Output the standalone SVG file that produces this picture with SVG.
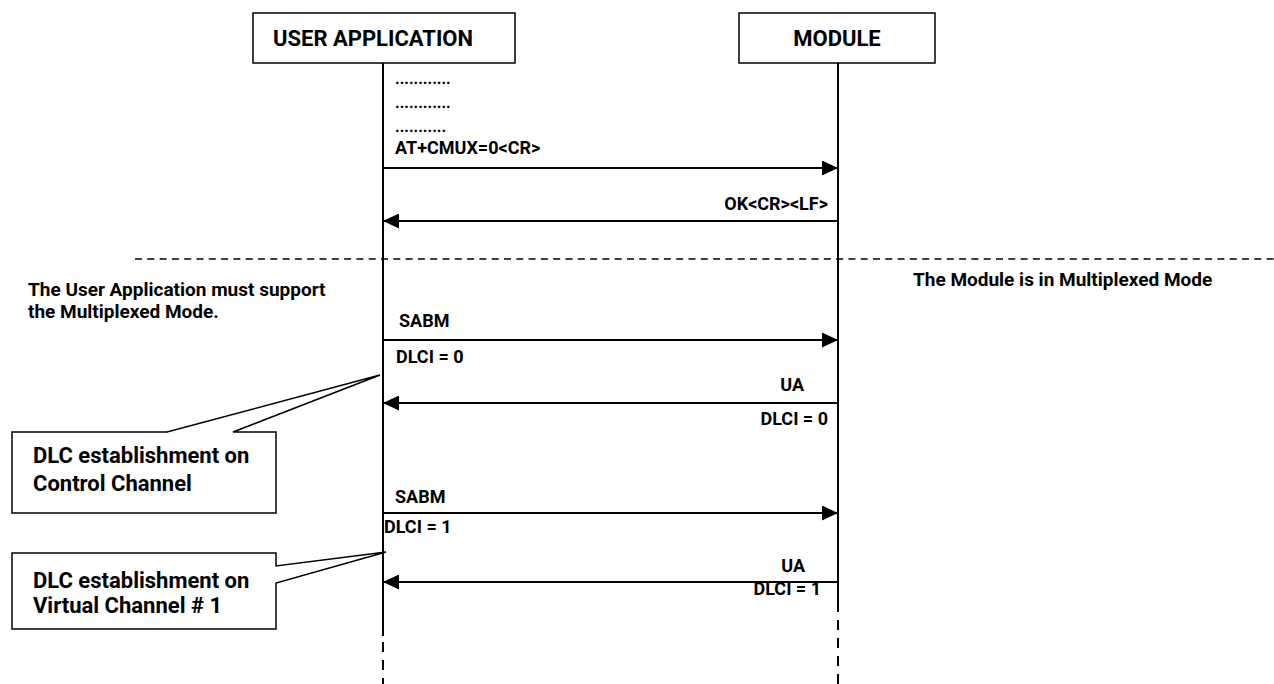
<svg xmlns="http://www.w3.org/2000/svg" width="1274" height="684" viewBox="0 0 1274 684">
<defs>
<style>
text{font-family:Roboto,"Liberation Sans",sans-serif;font-weight:bold;fill:#000}
.hdr{font-size:22px}
.note{font-size:19px}
.call{font-size:22px}
.msg{font-size:18px}
.dots{font-size:16px}
.box{fill:#fff;stroke:#000;stroke-width:1.5}
.life{stroke:#000;stroke-width:2;fill:none}
.dash{stroke:#000;stroke-width:2;stroke-dasharray:10 8;fill:none}
.arrow{stroke:#000;stroke-width:2;fill:none}
.sep{stroke:#000;stroke-width:1.5;stroke-dasharray:7 5.3;fill:none}
</style>
<marker id="ah" markerWidth="16" markerHeight="15" refX="16" refY="7.5" orient="auto" markerUnits="userSpaceOnUse">
<path d="M0,0 L16,7.5 L0,15 Z" fill="#000"/>
</marker>
</defs>
<rect width="1274" height="684" fill="#fff"/>

<g id="lifelines">
<line class="life" x1="383" y1="63" x2="383" y2="636"/>
<line class="dash" x1="383" y1="642" x2="383" y2="684"/>
<line class="life" x1="838" y1="63" x2="838" y2="612"/>
<line class="dash" x1="838" y1="620" x2="838" y2="684"/>
</g>

<g id="user-application">
<rect class="box" x="253" y="13" width="262" height="50"/>
<text class="hdr" x="373" y="46" text-anchor="middle">USER APPLICATION</text>
</g>

<g id="module">
<rect class="box" x="739" y="13" width="196" height="50"/>
<text class="hdr" x="837" y="46" text-anchor="middle">MODULE</text>
</g>

<g id="separator">
<line class="sep" x1="135" y1="259" x2="1274" y2="259"/>
<text class="note" x="913" y="286">The Module is in Multiplexed Mode</text>
<text class="note" x="28" y="296">The User Application must support</text>
<text class="note" x="28" y="318">the Multiplexed Mode.</text>
</g>

<g id="connectors">
<line class="arrow" x1="383" y1="168" x2="838" y2="168" marker-end="url(#ah)"/>
<line class="arrow" x1="838" y1="221" x2="383" y2="221" marker-end="url(#ah)"/>
<line class="arrow" x1="383" y1="340" x2="838" y2="340" marker-end="url(#ah)"/>
<line class="arrow" x1="838" y1="403" x2="383" y2="403" marker-end="url(#ah)"/>
<line class="arrow" x1="383" y1="513" x2="838" y2="513" marker-end="url(#ah)"/>
<line class="arrow" x1="838" y1="582" x2="383" y2="582" marker-end="url(#ah)"/>
</g>

<g id="labels">
<text class="dots" x="395" y="84">............</text>
<text class="dots" x="395" y="108">............</text>
<text class="dots" x="395" y="132">...........</text>
<text class="msg" x="395" y="154">AT+CMUX=0&lt;CR&gt;</text>
<text class="msg" x="828" y="210" text-anchor="end">OK&lt;CR&gt;&lt;LF&gt;</text>
<text class="msg" x="399" y="327">SABM</text>
<text class="msg" x="396" y="363">DLCI = 0</text>
<text class="msg" x="804" y="391" text-anchor="end">UA</text>
<text class="msg" x="828" y="425" text-anchor="end">DLCI = 0</text>
<text class="msg" x="395" y="503">SABM</text>
<text class="msg" x="384" y="533">DLCI = 1</text>
<text class="msg" x="805" y="572" text-anchor="end">UA</text>
<text class="msg" x="821" y="595" text-anchor="end">DLCI = 1</text>
</g>

<g id="callout-control">
<path class="box" d="M12,432 L167,432 L380,375 L233,432 L276,432 L276,513 L12,513 Z"/>
<text class="call" x="33" y="463">DLC establishment on</text>
<text class="call" x="33" y="491">Control Channel</text>
</g>

<g id="callout-virtual">
<path class="box" d="M12,553 L276,553 L276,566 L386,552 L276,583 L276,629 L12,629 Z"/>
<text class="call" x="33" y="588">DLC establishment on</text>
<text class="call" x="33" y="613">Virtual Channel # 1</text>
</g>
</svg>
